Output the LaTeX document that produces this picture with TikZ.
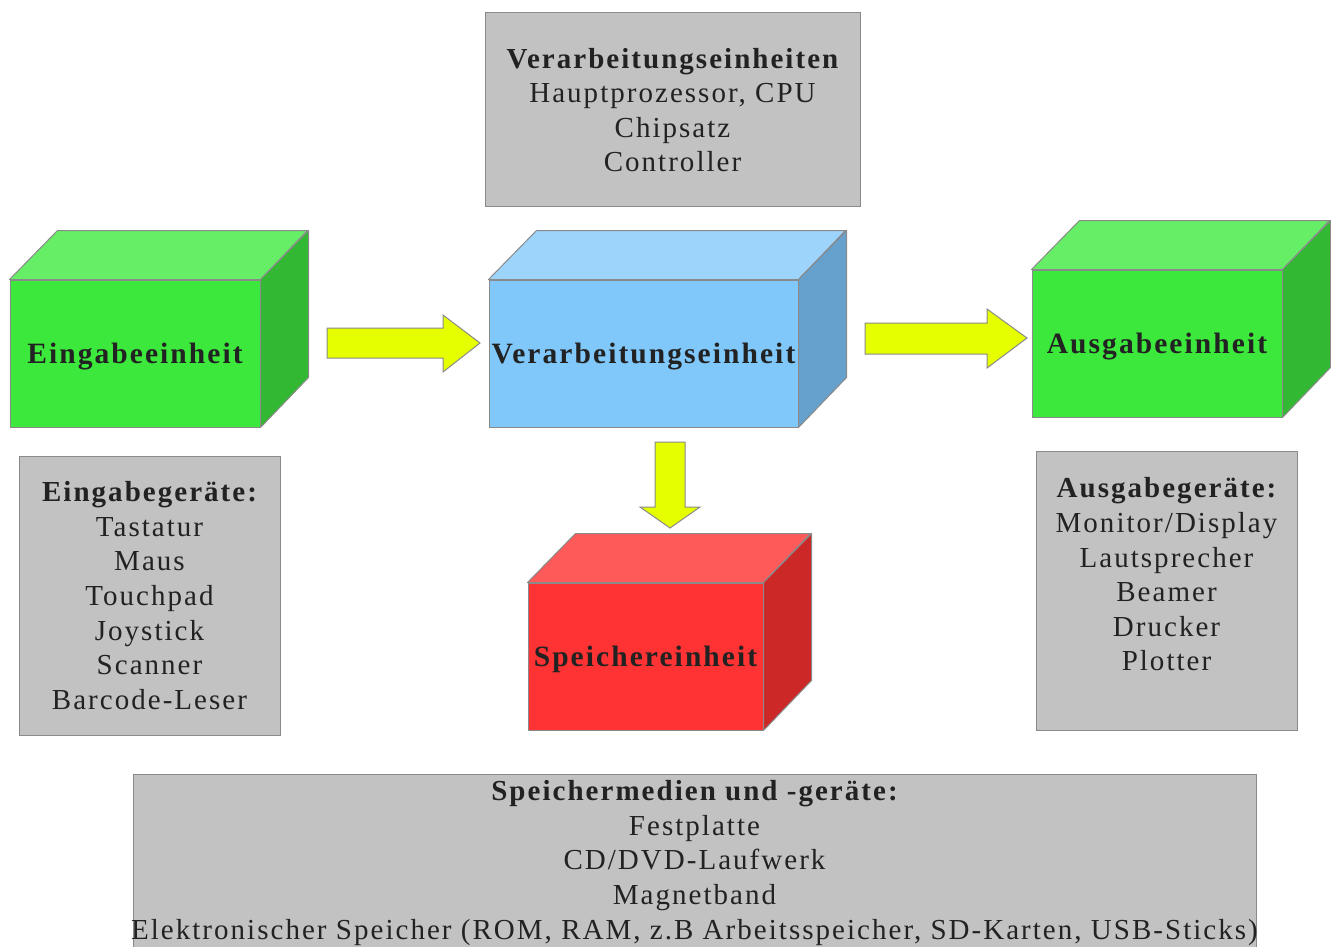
\documentclass[tikz,border=0pt]{standalone}
\usepackage{fontspec}
\setmainfont{Liberation Serif}[LetterSpace=7]
\definecolor{txt}{HTML}{222222}
\definecolor{boxgray}{HTML}{C2C2C2}
\definecolor{edge}{HTML}{8A8A8A}
\definecolor{gfront}{HTML}{3CE83C}
\definecolor{gtop}{HTML}{66EE66}
\definecolor{gside}{HTML}{33B833}
\definecolor{bfront}{HTML}{80C8FA}
\definecolor{btop}{HTML}{9DD4FC}
\definecolor{bside}{HTML}{66A0CC}
\definecolor{rfront}{HTML}{FF3333}
\definecolor{rtop}{HTML}{FF5A5A}
\definecolor{rside}{HTML}{CC2828}
\definecolor{arrowyellow}{HTML}{E6FF00}
\tikzset{
  txtfont/.style={font=\fontsize{29}{34.6}\selectfont, text=txt},
  cubefront/.style={draw=edge, line width=1pt, inner sep=0pt, text=txt, font=\fontsize{29.5}{34.6}\selectfont\bfseries},
  cubelabel/.style={text=txt, font=\fontsize{29.5}{34.6}\selectfont\bfseries, inner sep=0pt},
  face/.style={draw=edge, line width=1pt, line join=round},
  graybox/.style={draw=edge, line width=1pt, fill=boxgray, inner sep=0pt},
  boxtext/.style={txtfont, align=center, inner sep=0pt},
  blockarrow/.style={draw=edge, line width=1pt, fill=arrowyellow, line join=miter},
}
\begin{document}
\begin{tikzpicture}[x=1pt, y=-1pt]
\useasboundingbox (0,0) rectangle (1331,946);
\fill[white] (0,0) rectangle (1331,946);

% gray boxes
\node[graybox, minimum width=375pt, minimum height=194pt] (topB) at (672.5,109) {};
\node[boxtext, yshift=-1pt] (topT) at (topB.center) {{\bfseries Verarbeitungseinheiten}\\Hauptprozessor, CPU\\Chipsatz\\Controller};

\node[graybox, minimum width=261pt, minimum height=279pt] (einB) at (149.5,595.5) {};
\node[boxtext] (einT) at (einB.center) {{\bfseries Eingabeger\"ate:}\\Tastatur\\Maus\\Touchpad\\Joystick\\Scanner\\Barcode-Leser};

\node[graybox, minimum width=261pt, minimum height=279pt] (ausB) at (1166.5,590.5) {};
\node[boxtext, yshift=16pt] (ausT) at (ausB.center) {{\bfseries Ausgabeger\"ate:}\\Monitor/Display\\Lautsprecher\\Beamer\\Drucker\\Plotter};

\node[graybox, minimum width=1123pt, minimum height=180pt] (speB) at (694.5,864) {};
\node[boxtext] (speT) at (694.5,863) {{\bfseries Speichermedien und -ger\"ate:}\\Festplatte\\CD/DVD-Laufwerk\\Magnetband\\Elektronischer Speicher (ROM, RAM, z.B Arbeitsspeicher, SD-Karten, USB-Sticks)};

% cubes
\node[cubefront, fill=gfront, minimum width=250pt, minimum height=147pt] (ein) at (135,353.5) {};
\path[face, fill=gtop] (ein.north west) -- ++(48,-49) -- ++(250,0) -- (ein.north east) -- cycle;
\path[face, fill=gside] (ein.north east) -- ++(48,-49) -- ++(0,147) -- (ein.south east) -- cycle;
\node[cubelabel, yshift=-3pt] (einL) at (ein.center) {Eingabeeinheit};

\node[cubefront, fill=bfront, minimum width=309pt, minimum height=147pt] (ver) at (643.5,353.5) {};
\path[face, fill=btop] (ver.north west) -- ++(48,-49) -- ++(309,0) -- (ver.north east) -- cycle;
\path[face, fill=bside] (ver.north east) -- ++(48,-49) -- ++(0,147) -- (ver.south east) -- cycle;
\node[cubelabel, yshift=-3pt] (verL) at (ver.center) {Verarbeitungseinheit};

\node[cubefront, fill=gfront, minimum width=250pt, minimum height=147pt] (aus) at (1157,343.5) {};
\path[face, fill=gtop] (aus.north west) -- ++(48,-49) -- ++(250,0) -- (aus.north east) -- cycle;
\path[face, fill=gside] (aus.north east) -- ++(48,-49) -- ++(0,147) -- (aus.south east) -- cycle;
\node[cubelabel, yshift=-3pt] (ausL) at (aus.center) {Ausgabeeinheit};

\node[cubefront, fill=rfront, minimum width=235pt, minimum height=147pt] (spe) at (645.5,656.5) {};
\path[face, fill=rtop] (spe.north west) -- ++(48,-49) -- ++(235,0) -- (spe.north east) -- cycle;
\path[face, fill=rside] (spe.north east) -- ++(48,-49) -- ++(0,147) -- (spe.south east) -- cycle;
\node[cubelabel, yshift=-3pt] (speL) at (spe.center) {Speichereinheit};

% block arrows
\draw[blockarrow] (327,328) -- (443,328) -- (443,315) -- (480,343) -- (443,372) -- (443,358) -- (327,358) -- cycle;
\draw[blockarrow] (865,323) -- (987,323) -- (987,309) -- (1027,338) -- (987,368) -- (987,354) -- (865,354) -- cycle;
\draw[blockarrow] (655,442) -- (685,442) -- (685,507) -- (700,507) -- (670,528) -- (640,507) -- (655,507) -- cycle;
\end{tikzpicture}
\end{document}
